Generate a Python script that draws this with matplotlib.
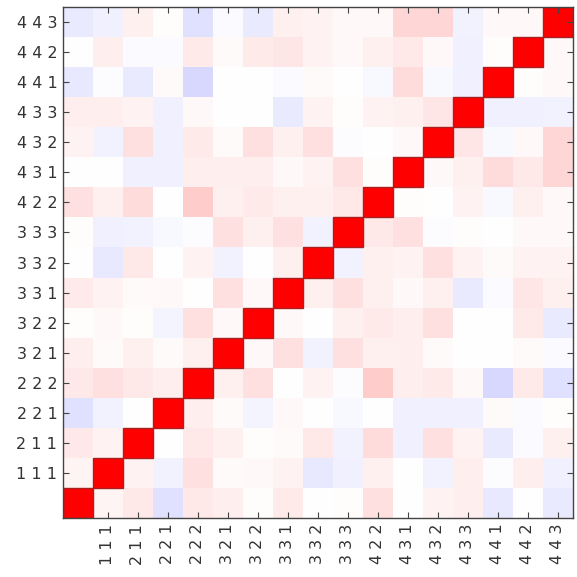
# correlation heatmap lower origin diagonal red
import numpy as np
import matplotlib.pyplot as plt
from matplotlib.patches import Rectangle

labels = ["1 1 1", "2 1 1", "2 2 1", "2 2 2", "3 2 1", "3 2 2", "3 3 1", "3 3 2",
          "3 3 3", "4 2 2", "4 3 1", "4 3 2", "4 3 3", "4 4 1", "4 4 2", "4 4 3"]

lower_rows = [
    [],
    [0.04],
    [0.09, 0.05],
    [-0.12, -0.05, 0.00],
    [0.09, 0.12, 0.09, 0.07],
    [0.07, 0.02, 0.06, 0.02, 0.06],
    [0.01, 0.03, 0.01, -0.04, 0.12, 0.03],
    [0.08, 0.05, 0.02, 0.03, 0.00, 0.12, 0.03],
    [0.00, -0.09, 0.09, 0.00, 0.05, -0.05, 0.00, 0.06],
    [0.01, -0.06, -0.05, -0.03, -0.01, 0.12, 0.06, 0.12, -0.05],
    [0.12, 0.06, 0.14, 0.00, 0.20, 0.06, 0.08, 0.06, 0.06, 0.09],
    [0.00, 0.00, -0.06, -0.06, 0.07, 0.07, 0.07, 0.03, 0.05, 0.12, 0.01],
    [0.05, -0.05, 0.12, -0.06, 0.08, 0.02, 0.12, 0.06, 0.12, -0.01, 0.00, 0.03],
    [0.07, 0.07, 0.05, -0.06, 0.03, 0.00, 0.00, -0.08, 0.05, 0.01, 0.05, 0.06, 0.10],
    [-0.09, -0.01, -0.08, 0.02, -0.15, 0.00, 0.00, -0.02, 0.02, 0.00, -0.03, 0.14, -0.03, -0.06],
    [0.00, 0.07, -0.02, -0.02, 0.08, 0.02, 0.08, 0.10, 0.05, 0.03, 0.06, 0.09, 0.03, -0.06, 0.01],
    [-0.08, -0.06, 0.06, 0.01, -0.12, -0.02, -0.08, 0.06, 0.05, 0.03, 0.03, 0.16, 0.16, -0.05, 0.03, 0.03],
]


def build_matrix(rows):
    n = len(rows)
    m = np.eye(n)
    for r, vals in enumerate(rows):
        for c, v in enumerate(vals):
            m[r, c] = v
            m[c, r] = v
    return m


def main():
    corr = build_matrix(lower_rows)
    n = corr.shape[0]
    edges = np.arange(n + 1) - 0.5

    fig = plt.figure(figsize=(5.77, 5.77), dpi=100)
    ax = fig.add_axes([0.109, 0.102, 0.884, 0.886])
    ax.pcolormesh(edges, edges, corr, cmap="bwr", vmin=-1, vmax=1)

    # thin darker outline on the diagonal cells
    for i in range(n):
        ax.add_patch(Rectangle((edges[i], edges[i]), 1, 1, fill=False,
                               edgecolor="#a82020", linewidth=1.0))

    ticks = np.arange(1, n)
    ax.set_xticks(ticks)
    ax.set_yticks(ticks)
    ax.set_xticklabels(labels, rotation=90, fontsize=11.5, color="#333333")
    ax.set_yticklabels(labels, fontsize=11.5, color="#333333")
    ax.tick_params(direction="in", length=4, width=0.8, color="#444444",
                   top=True, right=True, pad=4)
    ax.set_xlim(edges[0], edges[-1])
    ax.set_ylim(edges[0], edges[-1])
    for s in ax.spines.values():
        s.set_color("#444444")
        s.set_linewidth(1.0)

    fig.savefig("out.png", dpi=100)
    plt.close(fig)


if __name__ == "__main__":
    main()
